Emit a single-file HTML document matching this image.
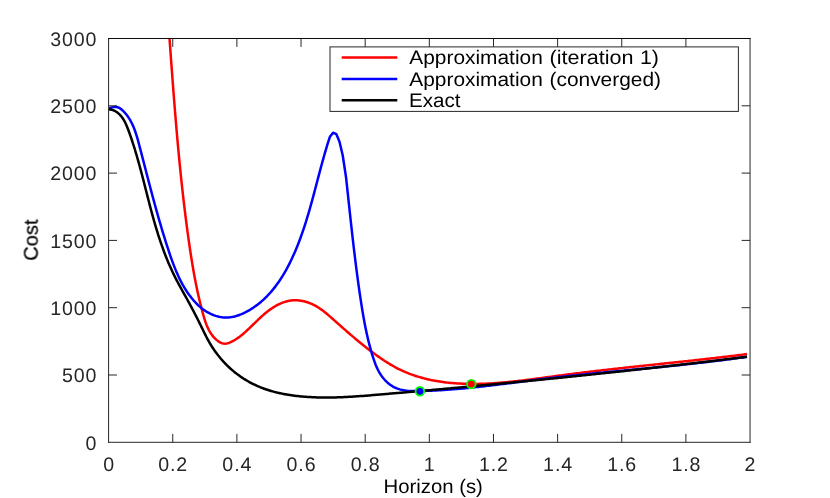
<!DOCTYPE html>
<html lang="en"><head><meta charset="utf-8"><title>Cost vs Horizon</title>
<style>
html,body{margin:0;padding:0;background:#fff;}
body{width:830px;height:498px;overflow:hidden;}
svg{display:block;}
text{font-family:"Liberation Sans",sans-serif;font-size:19.6px;fill:#262626;text-rendering:geometricPrecision;}
</style></head><body>
<svg width="830" height="498" viewBox="0 0 830 498">
<rect x="0" y="0" width="830" height="498" fill="#fff"/>
<defs><clipPath id="c"><rect x="108.60" y="38.50" width="641.45" height="403.80"/></clipPath></defs>
<g clip-path="url(#c)" fill="none" stroke-width="2.5" stroke-linejoin="round" stroke-linecap="butt">
<path d="M169.50 38.40L169.62 39.99L169.73 41.59L169.85 43.18L169.97 44.78L170.08 46.37L170.20 47.97L170.32 49.56L170.43 51.16L170.55 52.75L170.67 54.35L170.78 55.94L170.90 57.54L171.02 59.13L171.14 60.73L171.25 62.32L171.37 63.92L171.49 65.52L171.61 67.11L171.73 68.71L171.84 70.30L171.96 71.90L172.08 73.50L172.20 75.09L172.32 76.69L172.44 78.29L172.56 79.88L172.68 81.48L172.80 83.08L172.92 84.68L173.05 86.27L173.17 87.87L173.29 89.47L173.41 91.06L173.54 92.66L173.66 94.26L173.78 95.86L173.91 97.45L174.03 99.05L174.16 100.65L174.29 102.25L174.41 103.84L174.54 105.44L174.67 107.04L174.80 108.64L174.93 110.23L175.05 111.83L175.19 113.43L175.32 115.02L175.45 116.62L175.58 118.22L175.71 119.82L175.85 121.41L175.98 123.01L176.11 124.61L176.25 126.21L176.39 127.80L176.52 129.40L176.66 131.00L176.80 132.59L176.94 134.19L177.08 135.79L177.22 137.38L177.36 138.98L177.50 140.58L177.65 142.17L177.79 143.77L177.94 145.37L178.08 146.96L178.23 148.56L178.38 150.15L178.53 151.75L178.68 153.34L178.83 154.94L178.98 156.54L179.13 158.13L179.28 159.73L179.44 161.32L179.60 162.92L179.75 164.51L179.91 166.10L180.07 167.70L180.23 169.29L180.39 170.89L180.55 172.48L180.72 174.07L180.88 175.67L181.05 177.26L181.21 178.85L181.38 180.45L181.55 182.04L181.72 183.63L181.89 185.22L182.07 186.82L182.24 188.41L182.42 190.00L182.59 191.59L182.77 193.18L182.95 194.77L183.13 196.37L183.31 197.96L183.50 199.55L183.68 201.14L183.87 202.73L184.06 204.32L184.25 205.90L184.44 207.49L184.63 209.08L184.82 210.67L185.02 212.26L185.21 213.85L185.41 215.44L185.61 217.02L185.81 218.61L186.01 220.20L186.22 221.78L186.42 223.37L186.63 224.96L186.84 226.54L187.05 228.13L187.26 229.71L187.47 231.30L187.69 232.88L187.91 234.46L188.13 236.05L188.35 237.63L188.57 239.21L188.79 240.80L189.02 242.38L189.24 243.96L189.47 245.54L189.70 247.12L189.94 248.70L190.17 250.28L190.41 251.86L190.65 253.44L190.89 255.02L191.14 256.60L191.38 258.18L191.63 259.76L191.89 261.34L192.14 262.91L192.40 264.49L192.67 266.07L192.94 267.64L193.21 269.22L193.48 270.79L193.76 272.37L194.04 273.94L194.33 275.52L194.62 277.09L194.92 278.66L195.22 280.23L195.52 281.81L195.83 283.38L196.15 284.95L196.47 286.52L196.79 288.09L197.12 289.66L197.46 291.22L197.80 292.79L198.15 294.36L198.50 295.93L198.86 297.49L199.22 299.06L199.60 300.62L199.97 302.19L200.36 303.75L200.75 305.32L201.15 306.88L201.55 308.44L201.97 310.00L202.39 311.56L202.81 313.13L203.25 314.69L203.69 316.24L204.15 317.80L204.62 319.34L205.11 320.88L205.63 322.41L206.18 323.92L206.76 325.41L207.38 326.88L208.04 328.33L208.74 329.75L209.49 331.14L210.30 332.50L211.16 333.83L212.08 335.12L213.07 336.37L214.13 337.58L215.26 338.74L216.47 339.86L217.75 340.89L219.09 341.81L220.49 342.58L221.94 343.17L223.43 343.53L224.95 343.65L226.49 343.51L228.05 343.16L229.61 342.63L231.15 341.95L232.67 341.18L234.15 340.34L235.59 339.46L236.97 338.55L238.32 337.62L239.63 336.67L240.90 335.69L242.14 334.70L243.36 333.68L244.56 332.64L245.74 331.59L246.92 330.52L248.08 329.44L249.23 328.35L250.39 327.25L251.53 326.14L252.68 325.02L253.82 323.90L254.97 322.78L256.12 321.66L257.27 320.55L258.43 319.44L259.60 318.34L260.77 317.24L261.96 316.16L263.16 315.10L264.37 314.05L265.60 313.02L266.85 312.00L268.11 311.02L269.40 310.05L270.71 309.11L272.04 308.21L273.39 307.33L274.76 306.49L276.16 305.69L277.58 304.93L279.01 304.22L280.47 303.55L281.94 302.94L283.43 302.38L284.94 301.88L286.46 301.43L288.00 301.06L289.56 300.75L291.13 300.51L292.71 300.34L294.31 300.26L295.92 300.25L297.53 300.32L299.15 300.46L300.77 300.67L302.38 300.96L303.99 301.31L305.57 301.72L307.15 302.19L308.69 302.72L310.21 303.31L311.70 303.95L313.16 304.63L314.59 305.36L316.00 306.14L317.37 306.95L318.73 307.80L320.06 308.69L321.37 309.60L322.66 310.55L323.94 311.52L325.20 312.51L326.45 313.53L327.68 314.55L328.91 315.60L330.12 316.65L331.33 317.71L332.53 318.78L333.73 319.85L334.93 320.91L336.13 321.98L337.32 323.04L338.52 324.10L339.72 325.16L340.91 326.22L342.11 327.27L343.30 328.32L344.50 329.37L345.70 330.42L346.89 331.46L348.09 332.50L349.30 333.54L350.50 334.58L351.71 335.61L352.92 336.63L354.13 337.66L355.34 338.68L356.56 339.70L357.78 340.71L359.01 341.72L360.24 342.73L361.47 343.73L362.71 344.73L363.96 345.73L365.21 346.72L366.46 347.70L367.73 348.68L368.99 349.66L370.27 350.63L371.55 351.60L372.83 352.56L374.13 353.52L375.43 354.47L376.74 355.42L378.05 356.36L379.38 357.29L380.71 358.22L382.05 359.13L383.40 360.03L384.75 360.92L386.11 361.80L387.48 362.67L388.86 363.52L390.24 364.36L391.63 365.18L393.03 365.98L394.44 366.77L395.86 367.54L397.28 368.29L398.71 369.02L400.15 369.72L401.60 370.41L403.05 371.08L404.51 371.72L405.98 372.35L407.46 372.95L408.94 373.54L410.43 374.11L411.92 374.66L413.42 375.19L414.93 375.70L416.44 376.19L417.96 376.67L419.49 377.13L421.02 377.57L422.55 377.99L424.09 378.40L425.64 378.79L427.18 379.16L428.74 379.51L430.29 379.86L431.86 380.18L433.42 380.49L434.99 380.78L436.56 381.06L438.14 381.33L439.72 381.58L441.30 381.81L442.88 382.04L444.47 382.24L446.06 382.44L447.65 382.62L449.25 382.79L450.84 382.94L452.44 383.09L454.04 383.22L455.64 383.34L457.24 383.44L458.84 383.54L460.44 383.62L462.05 383.70L463.65 383.76L465.26 383.81L466.86 383.85L468.46 383.88L470.07 383.91L471.67 383.92L473.27 383.92L474.88 383.91L476.48 383.90L478.08 383.88L479.68 383.84L481.28 383.80L482.88 383.75L484.48 383.70L486.08 383.63L487.67 383.56L489.27 383.48L490.87 383.39L492.47 383.30L494.06 383.20L495.66 383.09L497.25 382.97L498.85 382.85L500.44 382.73L502.04 382.60L503.63 382.46L505.22 382.32L506.82 382.17L508.41 382.01L510.00 381.86L511.60 381.69L513.19 381.53L514.78 381.35L516.37 381.18L517.96 381.00L519.55 380.81L521.14 380.63L522.73 380.44L524.32 380.24L525.91 380.05L527.50 379.85L529.09 379.65L530.68 379.44L532.27 379.24L533.86 379.03L535.45 378.82L537.04 378.61L538.63 378.39L540.22 378.18L541.81 377.96L543.40 377.75L544.98 377.53L546.57 377.31L548.16 377.10L549.75 376.88L551.34 376.66L552.93 376.44L554.52 376.23L556.11 376.01L557.69 375.80L559.28 375.58L560.87 375.37L562.46 375.16L564.05 374.95L565.64 374.74L567.23 374.54L568.82 374.33L570.41 374.13L572.00 373.92L573.59 373.72L575.18 373.52L576.77 373.32L578.36 373.12L579.94 372.93L581.53 372.73L583.12 372.54L584.71 372.34L586.30 372.15L587.89 371.96L589.48 371.77L591.07 371.58L592.67 371.39L594.26 371.20L595.85 371.01L597.44 370.83L599.03 370.64L600.62 370.46L602.21 370.28L603.80 370.09L605.39 369.91L606.98 369.73L608.57 369.55L610.16 369.37L611.75 369.19L613.34 369.01L614.93 368.83L616.52 368.66L618.12 368.48L619.71 368.31L621.30 368.13L622.89 367.96L624.48 367.78L626.07 367.61L627.66 367.43L629.25 367.26L630.84 367.09L632.44 366.92L634.03 366.74L635.62 366.57L637.21 366.40L638.80 366.23L640.39 366.06L641.98 365.89L643.58 365.72L645.17 365.55L646.76 365.38L648.35 365.21L649.94 365.04L651.53 364.87L653.12 364.70L654.72 364.54L656.31 364.37L657.90 364.20L659.49 364.03L661.08 363.86L662.67 363.69L664.26 363.52L665.86 363.35L667.45 363.18L669.04 363.02L670.63 362.85L672.22 362.68L673.81 362.51L675.41 362.34L677.00 362.17L678.59 362.00L680.18 361.83L681.77 361.65L683.36 361.48L684.95 361.31L686.55 361.14L688.14 360.97L689.73 360.79L691.32 360.62L692.91 360.45L694.50 360.27L696.09 360.10L697.69 359.92L699.28 359.75L700.87 359.57L702.46 359.39L704.05 359.22L705.64 359.04L707.23 358.86L708.82 358.68L710.42 358.50L712.01 358.32L713.60 358.13L715.19 357.95L716.78 357.77L718.37 357.58L719.96 357.40L721.55 357.21L723.14 357.03L724.73 356.84L726.32 356.65L727.92 356.46L729.51 356.27L731.10 356.08L732.69 355.88L734.28 355.69L735.87 355.50L737.46 355.30L739.05 355.10L740.64 354.90L742.23 354.71L743.82 354.50L745.41 354.30L747.00 354.10" stroke="#ff0000"/>
<path d="M108.60 108.30L110.06 107.94L111.69 107.51L113.40 107.13L115.10 106.93L116.72 107.04L118.22 107.47L119.63 108.16L120.95 109.05L122.19 110.08L123.36 111.19L124.48 112.35L125.54 113.54L126.54 114.77L127.49 116.02L128.40 117.31L129.25 118.63L130.07 119.97L130.84 121.34L131.57 122.73L132.26 124.15L132.92 125.59L133.54 127.04L134.14 128.52L134.71 130.01L135.25 131.52L135.76 133.04L136.26 134.57L136.74 136.11L137.20 137.66L137.65 139.22L138.08 140.78L138.51 142.35L138.93 143.92L139.34 145.49L139.75 147.07L140.16 148.64L140.57 150.21L140.98 151.78L141.39 153.34L141.79 154.91L142.20 156.47L142.60 158.04L143.01 159.60L143.41 161.16L143.82 162.72L144.22 164.28L144.62 165.84L145.02 167.40L145.43 168.95L145.83 170.51L146.23 172.06L146.64 173.61L147.04 175.17L147.44 176.72L147.85 178.27L148.25 179.82L148.65 181.37L149.06 182.92L149.46 184.46L149.87 186.01L150.28 187.55L150.69 189.10L151.09 190.64L151.50 192.19L151.91 193.73L152.33 195.27L152.74 196.81L153.15 198.35L153.57 199.89L153.99 201.43L154.41 202.97L154.83 204.51L155.25 206.04L155.67 207.58L156.10 209.12L156.53 210.65L156.96 212.19L157.39 213.72L157.82 215.26L158.26 216.79L158.70 218.32L159.14 219.86L159.58 221.39L160.03 222.92L160.47 224.45L160.93 225.98L161.38 227.52L161.84 229.05L162.29 230.58L162.76 232.11L163.22 233.64L163.69 235.17L164.16 236.70L164.64 238.23L165.11 239.75L165.60 241.28L166.08 242.81L166.57 244.34L167.06 245.87L167.56 247.40L168.06 248.93L168.56 250.46L169.07 251.98L169.58 253.51L170.10 255.04L170.62 256.56L171.15 258.08L171.69 259.60L172.24 261.12L172.79 262.63L173.36 264.14L173.93 265.65L174.52 267.14L175.11 268.64L175.72 270.13L176.34 271.61L176.98 273.08L177.63 274.55L178.29 276.00L178.97 277.45L179.66 278.89L180.37 280.32L181.10 281.75L181.85 283.16L182.61 284.56L183.40 285.94L184.20 287.32L185.03 288.68L185.87 290.03L186.74 291.37L187.63 292.69L188.55 294.00L189.48 295.30L190.45 296.58L191.43 297.84L192.45 299.08L193.49 300.31L194.56 301.52L195.65 302.70L196.78 303.86L197.93 304.99L199.12 306.09L200.34 307.15L201.59 308.18L202.87 309.17L204.19 310.12L205.54 311.02L206.92 311.87L208.34 312.68L209.78 313.43L211.25 314.13L212.74 314.77L214.26 315.35L215.79 315.87L217.33 316.32L218.89 316.71L220.45 317.02L222.03 317.27L223.61 317.44L225.19 317.53L226.77 317.54L228.35 317.47L229.93 317.32L231.50 317.10L233.07 316.81L234.62 316.45L236.17 316.03L237.71 315.55L239.24 315.02L240.75 314.44L242.25 313.80L243.73 313.13L245.20 312.41L246.64 311.66L248.07 310.88L249.48 310.07L250.86 309.23L252.23 308.36L253.57 307.48L254.89 306.57L256.19 305.63L257.47 304.67L258.72 303.69L259.96 302.69L261.18 301.67L262.37 300.62L263.55 299.56L264.71 298.47L265.85 297.37L266.97 296.25L268.07 295.10L269.15 293.94L270.22 292.77L271.26 291.57L272.29 290.36L273.30 289.13L274.30 287.89L275.28 286.63L276.24 285.36L277.18 284.07L278.11 282.77L279.03 281.46L279.92 280.13L280.81 278.79L281.67 277.44L282.53 276.08L283.36 274.70L284.19 273.32L285.00 271.93L285.79 270.52L286.58 269.11L287.35 267.69L288.10 266.26L288.85 264.83L289.58 263.39L290.30 261.94L291.01 260.48L291.70 259.02L292.39 257.56L293.06 256.09L293.72 254.61L294.37 253.14L295.01 251.66L295.65 250.17L296.27 248.69L296.88 247.20L297.48 245.71L298.07 244.21L298.66 242.72L299.23 241.22L299.80 239.72L300.36 238.21L300.91 236.71L301.45 235.20L301.98 233.69L302.51 232.18L303.03 230.66L303.54 229.15L304.05 227.63L304.55 226.11L305.04 224.59L305.53 223.06L306.01 221.54L306.48 220.01L306.95 218.48L307.42 216.96L307.88 215.42L308.33 213.89L308.78 212.36L309.23 210.82L309.67 209.29L310.11 207.75L310.54 206.21L310.97 204.67L311.40 203.13L311.82 201.59L312.24 200.05L312.66 198.51L313.08 196.96L313.49 195.42L313.91 193.87L314.32 192.33L314.73 190.78L315.14 189.24L315.54 187.69L315.95 186.14L316.36 184.59L316.76 183.05L317.17 181.50L317.58 179.95L317.98 178.40L318.39 176.85L318.80 175.31L319.20 173.76L319.61 172.21L320.03 170.66L320.44 169.12L320.85 167.57L321.27 166.02L321.69 164.48L322.11 162.93L322.54 161.39L322.97 159.84L323.40 158.30L323.83 156.76L324.27 155.22L324.71 153.68L325.16 152.14L325.61 150.60L326.06 149.06L326.52 147.52L326.99 145.99L327.46 144.45L327.94 142.92L328.42 141.39L328.91 139.86L329.40 138.33L329.90 136.80L333.10 132.70L336.30 134.10L339.50 141.70L342.70 155.20L346.00 177.00L346.00 177.00L346.17 178.59L346.35 180.19L346.52 181.78L346.69 183.37L346.87 184.97L347.04 186.56L347.21 188.15L347.38 189.75L347.55 191.34L347.73 192.93L347.90 194.53L348.07 196.12L348.24 197.71L348.41 199.31L348.58 200.90L348.75 202.49L348.92 204.08L349.10 205.68L349.27 207.27L349.44 208.86L349.61 210.46L349.78 212.05L349.96 213.64L350.13 215.24L350.30 216.83L350.48 218.42L350.65 220.01L350.82 221.61L351.00 223.20L351.17 224.79L351.35 226.38L351.53 227.98L351.70 229.57L351.88 231.16L352.06 232.75L352.24 234.34L352.42 235.94L352.60 237.53L352.78 239.12L352.97 240.71L353.15 242.30L353.34 243.89L353.52 245.49L353.71 247.08L353.89 248.67L354.08 250.26L354.27 251.85L354.46 253.44L354.66 255.03L354.85 256.62L355.04 258.21L355.24 259.80L355.44 261.39L355.64 262.98L355.84 264.57L356.04 266.16L356.24 267.75L356.44 269.34L356.65 270.93L356.86 272.52L357.07 274.10L357.28 275.69L357.49 277.28L357.70 278.87L357.92 280.46L358.13 282.04L358.35 283.63L358.57 285.22L358.80 286.81L359.02 288.39L359.25 289.98L359.48 291.57L359.71 293.15L359.94 294.74L360.17 296.32L360.41 297.91L360.65 299.49L360.89 301.08L361.13 302.66L361.38 304.25L361.63 305.83L361.88 307.42L362.13 309.00L362.39 310.58L362.66 312.16L362.92 313.74L363.19 315.32L363.47 316.90L363.75 318.48L364.04 320.06L364.33 321.63L364.62 323.21L364.92 324.78L365.23 326.35L365.55 327.92L365.87 329.49L366.20 331.06L366.53 332.63L366.88 334.19L367.23 335.75L367.58 337.31L367.95 338.87L368.32 340.43L368.71 341.98L369.10 343.53L369.50 345.08L369.91 346.63L370.33 348.18L370.76 349.72L371.20 351.26L371.65 352.80L372.11 354.33L372.58 355.87L373.06 357.40L373.56 358.92L374.08 360.44L374.61 361.95L375.17 363.45L375.75 364.94L376.37 366.41L377.02 367.87L377.70 369.32L378.43 370.74L379.20 372.14L380.01 373.52L380.88 374.88L381.80 376.20L382.77 377.50L383.81 378.77L384.91 380.01L386.06 381.20L387.28 382.35L388.54 383.45L389.85 384.48L391.20 385.43L392.57 386.30L393.98 387.08L395.40 387.77L396.85 388.38L398.32 388.92L399.82 389.38L401.33 389.77L402.85 390.10L404.39 390.38L405.95 390.60L407.52 390.77L409.10 390.90L410.69 390.99L412.28 391.05L413.88 391.09L415.49 391.09L417.10 391.08L418.71 391.06L420.32 391.03L421.94 390.99L423.55 390.95L425.16 390.90L426.76 390.85L428.37 390.79L429.98 390.73L431.59 390.66L433.19 390.58L434.80 390.51L436.40 390.42L438.01 390.34L439.61 390.24L441.22 390.15L442.82 390.05L444.42 389.94L446.02 389.84L447.62 389.72L449.22 389.61L450.82 389.49L452.42 389.36L454.02 389.23L455.62 389.10L457.22 388.97L458.81 388.83L460.41 388.69L462.01 388.54L463.60 388.40L465.20 388.24L466.79 388.09L468.39 387.93L469.98 387.77L471.58 387.61L473.17 387.45L474.76 387.28L476.36 387.11L477.95 386.94L479.54 386.76L481.14 386.59L482.73 386.41L484.32 386.23L485.91 386.04L487.50 385.86L489.09 385.67L490.68 385.49L492.27 385.30L493.86 385.11L495.45 384.91L497.04 384.72L498.63 384.52L500.22 384.33L501.81 384.13L503.40 383.93L504.99 383.74L506.58 383.54L508.17 383.34L509.75 383.14L511.34 382.93L512.93 382.73L514.52 382.53L516.11 382.33L517.70 382.13L519.29 381.92L520.88 381.72L522.46 381.52L524.05 381.32L525.64 381.12L527.23 380.92L528.82 380.71L530.41 380.51L532.00 380.32L533.58 380.12L535.17 379.92L536.76 379.72L538.35 379.53L539.94 379.33L541.53 379.14L543.12 378.94L544.71 378.75L546.30 378.56L547.89 378.38L549.48 378.19L551.07 378.00L552.67 377.82L554.26 377.64L555.85 377.46L557.44 377.28L559.03 377.10L560.62 376.92L562.22 376.74L563.81 376.57L565.40 376.39L566.99 376.22L568.58 376.05L570.18 375.88L571.77 375.71L573.36 375.54L574.96 375.37L576.55 375.20L578.14 375.04L579.74 374.87L581.33 374.71L582.93 374.54L584.52 374.38L586.11 374.22L587.71 374.06L589.30 373.90L590.90 373.74L592.49 373.58L594.09 373.42L595.68 373.26L597.27 373.10L598.87 372.95L600.46 372.79L602.06 372.63L603.65 372.48L605.25 372.32L606.84 372.17L608.44 372.01L610.03 371.86L611.63 371.71L613.23 371.55L614.82 371.40L616.42 371.25L618.01 371.09L619.61 370.94L621.20 370.79L622.80 370.64L624.39 370.48L625.99 370.33L627.58 370.18L629.18 370.03L630.78 369.87L632.37 369.72L633.97 369.57L635.56 369.42L637.16 369.26L638.75 369.11L640.35 368.96L641.94 368.80L643.54 368.65L645.14 368.50L646.73 368.34L648.33 368.19L649.92 368.03L651.52 367.88L653.11 367.72L654.71 367.56L656.30 367.41L657.90 367.25L659.49 367.09L661.09 366.93L662.68 366.77L664.28 366.61L665.87 366.45L667.47 366.29L669.06 366.13L670.65 365.97L672.25 365.80L673.84 365.64L675.44 365.47L677.03 365.31L678.62 365.14L680.22 364.97L681.81 364.80L683.41 364.63L685.00 364.46L686.59 364.29L688.18 364.12L689.78 363.94L691.37 363.77L692.96 363.59L694.56 363.41L696.15 363.24L697.74 363.06L699.33 362.87L700.92 362.69L702.52 362.51L704.11 362.32L705.70 362.14L707.29 361.95L708.88 361.76L710.47 361.57L712.06 361.37L713.65 361.18L715.24 360.98L716.83 360.79L718.42 360.59L720.01 360.39L721.60 360.19L723.19 359.98L724.78 359.78L726.37 359.57L727.96 359.36L729.55 359.15L731.13 358.94L732.72 358.72L734.31 358.50L735.90 358.29L737.48 358.07L739.07 357.84L740.66 357.62L742.24 357.39L743.83 357.16L745.41 356.93L747.00 356.70" stroke="#0000ff"/>
<path d="M108.60 109.60L110.30 109.61L111.92 109.86L113.44 110.33L114.88 110.97L116.24 111.75L117.51 112.64L118.69 113.62L119.79 114.67L120.82 115.79L121.79 116.98L122.69 118.23L123.53 119.53L124.32 120.89L125.06 122.28L125.75 123.72L126.42 125.19L127.05 126.68L127.65 128.19L128.23 129.72L128.80 131.25L129.35 132.79L129.90 134.33L130.44 135.87L130.97 137.42L131.49 138.96L132.00 140.50L132.51 142.04L133.01 143.59L133.51 145.13L134.00 146.67L134.48 148.22L134.95 149.76L135.42 151.31L135.88 152.85L136.34 154.40L136.80 155.94L137.24 157.49L137.69 159.03L138.12 160.58L138.56 162.13L138.99 163.67L139.41 165.22L139.84 166.76L140.25 168.31L140.67 169.86L141.08 171.40L141.49 172.95L141.90 174.50L142.30 176.04L142.71 177.59L143.11 179.14L143.50 180.68L143.90 182.23L144.30 183.77L144.69 185.32L145.09 186.86L145.48 188.41L145.88 189.95L146.27 191.50L146.66 193.04L147.06 194.58L147.45 196.13L147.84 197.67L148.24 199.21L148.64 200.75L149.04 202.30L149.44 203.84L149.84 205.38L150.24 206.92L150.65 208.46L151.06 209.99L151.47 211.53L151.89 213.07L152.30 214.61L152.73 216.14L153.15 217.68L153.58 219.21L154.01 220.74L154.45 222.28L154.89 223.81L155.34 225.34L155.79 226.87L156.25 228.40L156.71 229.93L157.18 231.45L157.65 232.98L158.13 234.51L158.62 236.03L159.11 237.55L159.61 239.08L160.12 240.60L160.63 242.12L161.15 243.64L161.68 245.15L162.22 246.67L162.76 248.18L163.31 249.69L163.87 251.20L164.44 252.71L165.01 254.21L165.60 255.71L166.19 257.21L166.79 258.70L167.39 260.19L168.01 261.68L168.63 263.16L169.27 264.64L169.91 266.11L170.56 267.58L171.22 269.05L171.89 270.51L172.57 271.96L173.26 273.41L173.95 274.85L174.66 276.29L175.37 277.72L176.10 279.15L176.83 280.57L177.58 281.98L178.33 283.39L179.09 284.79L179.85 286.20L180.62 287.59L181.39 288.99L182.17 290.38L182.95 291.77L183.73 293.17L184.50 294.56L185.28 295.95L186.06 297.34L186.83 298.74L187.60 300.14L188.36 301.54L189.13 302.94L189.89 304.35L190.64 305.75L191.39 307.16L192.14 308.57L192.89 309.99L193.63 311.41L194.37 312.82L195.11 314.25L195.84 315.67L196.57 317.10L197.29 318.52L198.02 319.96L198.74 321.39L199.45 322.82L200.17 324.26L200.88 325.70L201.58 327.14L202.29 328.59L202.99 330.04L203.69 331.48L204.39 332.93L205.11 334.37L205.82 335.81L206.56 337.24L207.30 338.66L208.06 340.07L208.84 341.47L209.64 342.86L210.46 344.24L211.30 345.61L212.15 346.96L213.03 348.30L213.92 349.62L214.84 350.94L215.77 352.24L216.72 353.52L217.68 354.79L218.67 356.04L219.68 357.29L220.70 358.51L221.74 359.72L222.80 360.91L223.87 362.09L224.96 363.25L226.08 364.39L227.20 365.52L228.35 366.63L229.51 367.72L230.69 368.80L231.89 369.85L233.10 370.89L234.33 371.91L235.58 372.90L236.84 373.88L238.12 374.84L239.42 375.78L240.73 376.70L242.06 377.60L243.40 378.48L244.76 379.33L246.13 380.17L247.52 380.98L248.91 381.78L250.32 382.55L251.74 383.30L253.18 384.03L254.62 384.73L256.08 385.41L257.54 386.07L259.01 386.71L260.50 387.32L261.99 387.91L263.49 388.48L265.00 389.03L266.51 389.55L268.03 390.05L269.56 390.53L271.09 390.99L272.63 391.42L274.18 391.84L275.73 392.24L277.29 392.62L278.85 392.98L280.41 393.33L281.98 393.65L283.56 393.96L285.13 394.26L286.71 394.53L288.30 394.80L289.88 395.04L291.47 395.28L293.05 395.50L294.64 395.70L296.23 395.89L297.82 396.08L299.42 396.24L301.01 396.40L302.60 396.55L304.19 396.68L305.78 396.81L307.38 396.92L308.97 397.02L310.56 397.11L312.16 397.20L313.75 397.27L315.34 397.33L316.94 397.38L318.53 397.43L320.13 397.46L321.72 397.49L323.31 397.51L324.91 397.52L326.50 397.52L328.10 397.52L329.70 397.50L331.29 397.48L332.89 397.45L334.48 397.42L336.08 397.38L337.68 397.33L339.27 397.28L340.87 397.22L342.47 397.15L344.06 397.08L345.66 397.01L347.26 396.92L348.85 396.84L350.45 396.75L352.05 396.65L353.64 396.55L355.24 396.45L356.84 396.34L358.44 396.23L360.03 396.12L361.63 396.00L363.23 395.88L364.82 395.76L366.42 395.63L368.02 395.51L369.62 395.38L371.21 395.25L372.81 395.12L374.41 394.98L376.01 394.85L377.60 394.71L379.20 394.58L380.80 394.44L382.39 394.31L383.99 394.17L385.59 394.04L387.18 393.90L388.78 393.76L390.38 393.62L391.97 393.49L393.57 393.35L395.17 393.21L396.76 393.07L398.36 392.94L399.96 392.80L401.55 392.66L403.15 392.52L404.75 392.38L406.34 392.24L407.94 392.10L409.53 391.96L411.13 391.82L412.73 391.68L414.32 391.54L415.92 391.40L417.51 391.26L419.11 391.12L420.70 390.98L422.30 390.84L423.89 390.70L425.49 390.56L427.09 390.41L428.68 390.27L430.28 390.13L431.87 389.99L433.47 389.84L435.06 389.70L436.66 389.56L438.25 389.41L439.85 389.27L441.44 389.13L443.04 388.98L444.63 388.84L446.23 388.69L447.82 388.55L449.41 388.40L451.01 388.26L452.60 388.11L454.20 387.97L455.79 387.82L457.39 387.67L458.98 387.53L460.58 387.38L462.17 387.23L463.76 387.09L465.36 386.94L466.95 386.79L468.55 386.64L470.14 386.50L471.73 386.35L473.33 386.20L474.92 386.05L476.51 385.90L478.11 385.75L479.70 385.60L481.30 385.45L482.89 385.30L484.48 385.15L486.08 385.00L487.67 384.85L489.26 384.70L490.86 384.55L492.45 384.40L494.04 384.25L495.64 384.10L497.23 383.94L498.82 383.79L500.42 383.64L502.01 383.49L503.60 383.33L505.19 383.18L506.79 383.03L508.38 382.87L509.97 382.72L511.57 382.57L513.16 382.41L514.75 382.26L516.34 382.10L517.94 381.95L519.53 381.79L521.12 381.63L522.71 381.48L524.31 381.32L525.90 381.17L527.49 381.01L529.08 380.85L530.68 380.70L532.27 380.54L533.86 380.38L535.45 380.22L537.04 380.06L538.64 379.91L540.23 379.75L541.82 379.59L543.41 379.43L545.00 379.27L546.60 379.11L548.19 378.95L549.78 378.79L551.37 378.63L552.96 378.47L554.56 378.31L556.15 378.15L557.74 377.98L559.33 377.82L560.92 377.66L562.51 377.50L564.11 377.34L565.70 377.17L567.29 377.01L568.88 376.85L570.47 376.68L572.06 376.52L573.65 376.36L575.25 376.19L576.84 376.03L578.43 375.86L580.02 375.70L581.61 375.53L583.20 375.37L584.79 375.20L586.38 375.03L587.98 374.87L589.57 374.70L591.16 374.53L592.75 374.37L594.34 374.20L595.93 374.03L597.52 373.86L599.11 373.69L600.70 373.53L602.30 373.36L603.89 373.19L605.48 373.02L607.07 372.85L608.66 372.68L610.25 372.51L611.84 372.34L613.43 372.17L615.02 372.00L616.61 371.82L618.20 371.65L619.79 371.48L621.38 371.31L622.97 371.14L624.57 370.96L626.16 370.79L627.75 370.62L629.34 370.44L630.93 370.27L632.52 370.10L634.11 369.92L635.70 369.75L637.29 369.57L638.88 369.40L640.47 369.22L642.06 369.05L643.65 368.87L645.24 368.69L646.83 368.52L648.42 368.34L650.01 368.16L651.60 367.99L653.19 367.81L654.78 367.63L656.37 367.45L657.96 367.27L659.55 367.09L661.14 366.91L662.73 366.74L664.32 366.56L665.91 366.38L667.50 366.20L669.09 366.01L670.68 365.83L672.27 365.65L673.86 365.47L675.45 365.29L677.04 365.11L678.63 364.92L680.23 364.74L681.82 364.56L683.41 364.38L685.00 364.19L686.59 364.01L688.18 363.82L689.76 363.64L691.35 363.46L692.94 363.27L694.53 363.08L696.12 362.90L697.71 362.71L699.30 362.53L700.89 362.34L702.48 362.15L704.07 361.97L705.66 361.78L707.25 361.59L708.84 361.40L710.43 361.22L712.02 361.03L713.61 360.84L715.20 360.65L716.79 360.46L718.38 360.27L719.97 360.08L721.56 359.89L723.15 359.70L724.74 359.51L726.33 359.32L727.92 359.12L729.51 358.93L731.10 358.74L732.69 358.55L734.28 358.35L735.87 358.16L737.46 357.97L739.05 357.77L740.64 357.58L742.23 357.39L743.82 357.19L745.41 357.00L747.00 356.80" stroke="#000000"/>
</g>
<circle cx="419.9" cy="391.3" r="4.3" fill="#0000ff" stroke="#00ff00" stroke-width="1.8"/>
<circle cx="471.3" cy="384.1" r="4.3" fill="#ff0000" stroke="#00ff00" stroke-width="1.8"/>
<g stroke="#262626" stroke-width="1" fill="none">
<line x1="108.60" y1="38.00" x2="108.60" y2="442.80"/>
<line x1="750.05" y1="38.00" x2="750.05" y2="442.80"/>
<line x1="108.10" y1="38.50" x2="750.55" y2="38.50" stroke="#0c0c0c"/>
<line x1="108.10" y1="442.30" x2="750.55" y2="442.30"/>
<line x1="172.75" y1="442.30" x2="172.75" y2="433.90"/>
<line x1="172.75" y1="38.50" x2="172.75" y2="46.90"/>
<line x1="236.89" y1="442.30" x2="236.89" y2="433.90"/>
<line x1="236.89" y1="38.50" x2="236.89" y2="46.90"/>
<line x1="301.03" y1="442.30" x2="301.03" y2="433.90"/>
<line x1="301.03" y1="38.50" x2="301.03" y2="46.90"/>
<line x1="365.18" y1="442.30" x2="365.18" y2="433.90"/>
<line x1="365.18" y1="38.50" x2="365.18" y2="46.90"/>
<line x1="429.32" y1="442.30" x2="429.32" y2="433.90"/>
<line x1="429.32" y1="38.50" x2="429.32" y2="46.90"/>
<line x1="493.47" y1="442.30" x2="493.47" y2="433.90"/>
<line x1="493.47" y1="38.50" x2="493.47" y2="46.90"/>
<line x1="557.62" y1="442.30" x2="557.62" y2="433.90"/>
<line x1="557.62" y1="38.50" x2="557.62" y2="46.90"/>
<line x1="621.76" y1="442.30" x2="621.76" y2="433.90"/>
<line x1="621.76" y1="38.50" x2="621.76" y2="46.90"/>
<line x1="685.90" y1="442.30" x2="685.90" y2="433.90"/>
<line x1="685.90" y1="38.50" x2="685.90" y2="46.90"/>
<line x1="108.60" y1="375.00" x2="117.00" y2="375.00"/>
<line x1="750.05" y1="375.00" x2="741.65" y2="375.00"/>
<line x1="108.60" y1="307.70" x2="117.00" y2="307.70"/>
<line x1="750.05" y1="307.70" x2="741.65" y2="307.70"/>
<line x1="108.60" y1="240.40" x2="117.00" y2="240.40"/>
<line x1="750.05" y1="240.40" x2="741.65" y2="240.40"/>
<line x1="108.60" y1="173.10" x2="117.00" y2="173.10"/>
<line x1="750.05" y1="173.10" x2="741.65" y2="173.10"/>
<line x1="108.60" y1="105.80" x2="117.00" y2="105.80"/>
<line x1="750.05" y1="105.80" x2="741.65" y2="105.80"/>
</g>
<g style="opacity:0.999">
<g style="letter-spacing:0.9px">
<text x="109.05" y="470.6" text-anchor="middle">0</text>
<text x="173.19" y="470.6" text-anchor="middle">0.2</text>
<text x="237.34" y="470.6" text-anchor="middle">0.4</text>
<text x="301.48" y="470.6" text-anchor="middle">0.6</text>
<text x="365.63" y="470.6" text-anchor="middle">0.8</text>
<text x="429.77" y="470.6" text-anchor="middle">1</text>
<text x="493.92" y="470.6" text-anchor="middle">1.2</text>
<text x="558.07" y="470.6" text-anchor="middle">1.4</text>
<text x="622.21" y="470.6" text-anchor="middle">1.6</text>
<text x="686.36" y="470.6" text-anchor="middle">1.8</text>
<text x="750.50" y="470.6" text-anchor="middle">2</text>
<text x="97.4" y="450" text-anchor="end">0</text>
<text x="97.4" y="382" text-anchor="end">500</text>
<text x="97.4" y="315" text-anchor="end">1000</text>
<text x="97.4" y="248" text-anchor="end">1500</text>
<text x="97.4" y="180" text-anchor="end">2000</text>
<text x="97.4" y="113" text-anchor="end">2500</text>
<text x="97.4" y="46" text-anchor="end">3000</text>
</g>
<text x="383.50" y="493.40" textLength="99.40" lengthAdjust="spacingAndGlyphs" style="fill:#000">Horizon (s)</text>
<text transform="translate(37.6,260.8) rotate(-90)" textLength="41.4" lengthAdjust="spacingAndGlyphs" style="fill:#000;stroke:#000;stroke-width:0.25px">Cost</text>
<rect x="330.0" y="46.9" width="408.40" height="64.50" fill="#fff" stroke="#262626" stroke-width="1"/>
<line x1="341.7" y1="57.55" x2="397.3" y2="57.55" stroke="#ff0000" stroke-width="2.5"/>
<line x1="341.7" y1="79.00" x2="397.3" y2="79.00" stroke="#0000ff" stroke-width="2.5"/>
<line x1="341.7" y1="100.35" x2="397.3" y2="100.35" stroke="#000000" stroke-width="2.5"/>
<text x="409.30" y="64.20" textLength="133.50" lengthAdjust="spacingAndGlyphs" style="fill:#000">Approximation</text>
<text x="549.50" y="64.20" textLength="84.00" lengthAdjust="spacingAndGlyphs" style="fill:#000">(iteration</text>
<text x="640.00" y="64.20" textLength="19.00" lengthAdjust="spacingAndGlyphs" style="fill:#000">1)</text>
<text x="409.30" y="85.70" textLength="133.50" lengthAdjust="spacingAndGlyphs" style="fill:#000">Approximation</text>
<text x="549.50" y="85.70" textLength="111.50" lengthAdjust="spacingAndGlyphs" style="fill:#000">(converged)</text>
<text x="409.00" y="107.20" textLength="51.50" lengthAdjust="spacingAndGlyphs" style="fill:#000">Exact</text>
</g>
</svg></body></html>
